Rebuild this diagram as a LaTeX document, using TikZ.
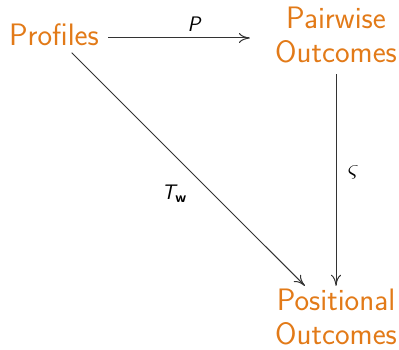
\documentclass[tikz,border=0pt]{standalone}
\usepackage{amsmath,amssymb}
\usepackage{xcolor}
\usetikzlibrary{arrows.meta,calc,positioning}
\definecolor{setorange}{RGB}{226,122,24}
\renewcommand{\familydefault}{\sfdefault}

\begin{document}
\begin{tikzpicture}[x=1pt,y=1pt,
    setnode/.style={text=setorange,align=center,inner sep=3pt,
      font=\fontsize{31}{34}\selectfont},
    maparrow/.style={draw=black!80,line width=1pt,-{To[length=11pt,width=10pt]}},
    maplabel/.style={font=\fontsize{21}{24}\selectfont}]
  \useasboundingbox (0,0) rectangle (399,349);
  \node[setnode] (profiles) at (54,314) {Profiles};
  \node[setnode] (pairwise) at (336,314) {Pairwise\\Outcomes};
  \node[setnode] (positional) at (336,32) {Positional\\Outcomes};
  \coordinate (pstart) at ([yshift=-3pt]profiles.east);
  \draw[maparrow,shorten <=6pt,shorten >=22pt] (pstart) -- (pstart -| pairwise.west)
    node[maplabel,pos=0.6,above,yshift=3pt,xshift=-10pt] {\itshape P};
  \draw[maparrow,shorten <=8pt] (pairwise) -- (positional)
    node[maplabel,midway,right,xshift=8pt,yshift=4pt,font=\fontsize{30}{34}\selectfont] {$\varsigma$};
  \draw[maparrow,shorten <=5pt] (profiles) -- (positional)
    node[maplabel,pos=0.61,anchor=east,xshift=-22pt] {{\itshape T}$_{\text{\bfseries w}}$};
\end{tikzpicture}
\end{document}
